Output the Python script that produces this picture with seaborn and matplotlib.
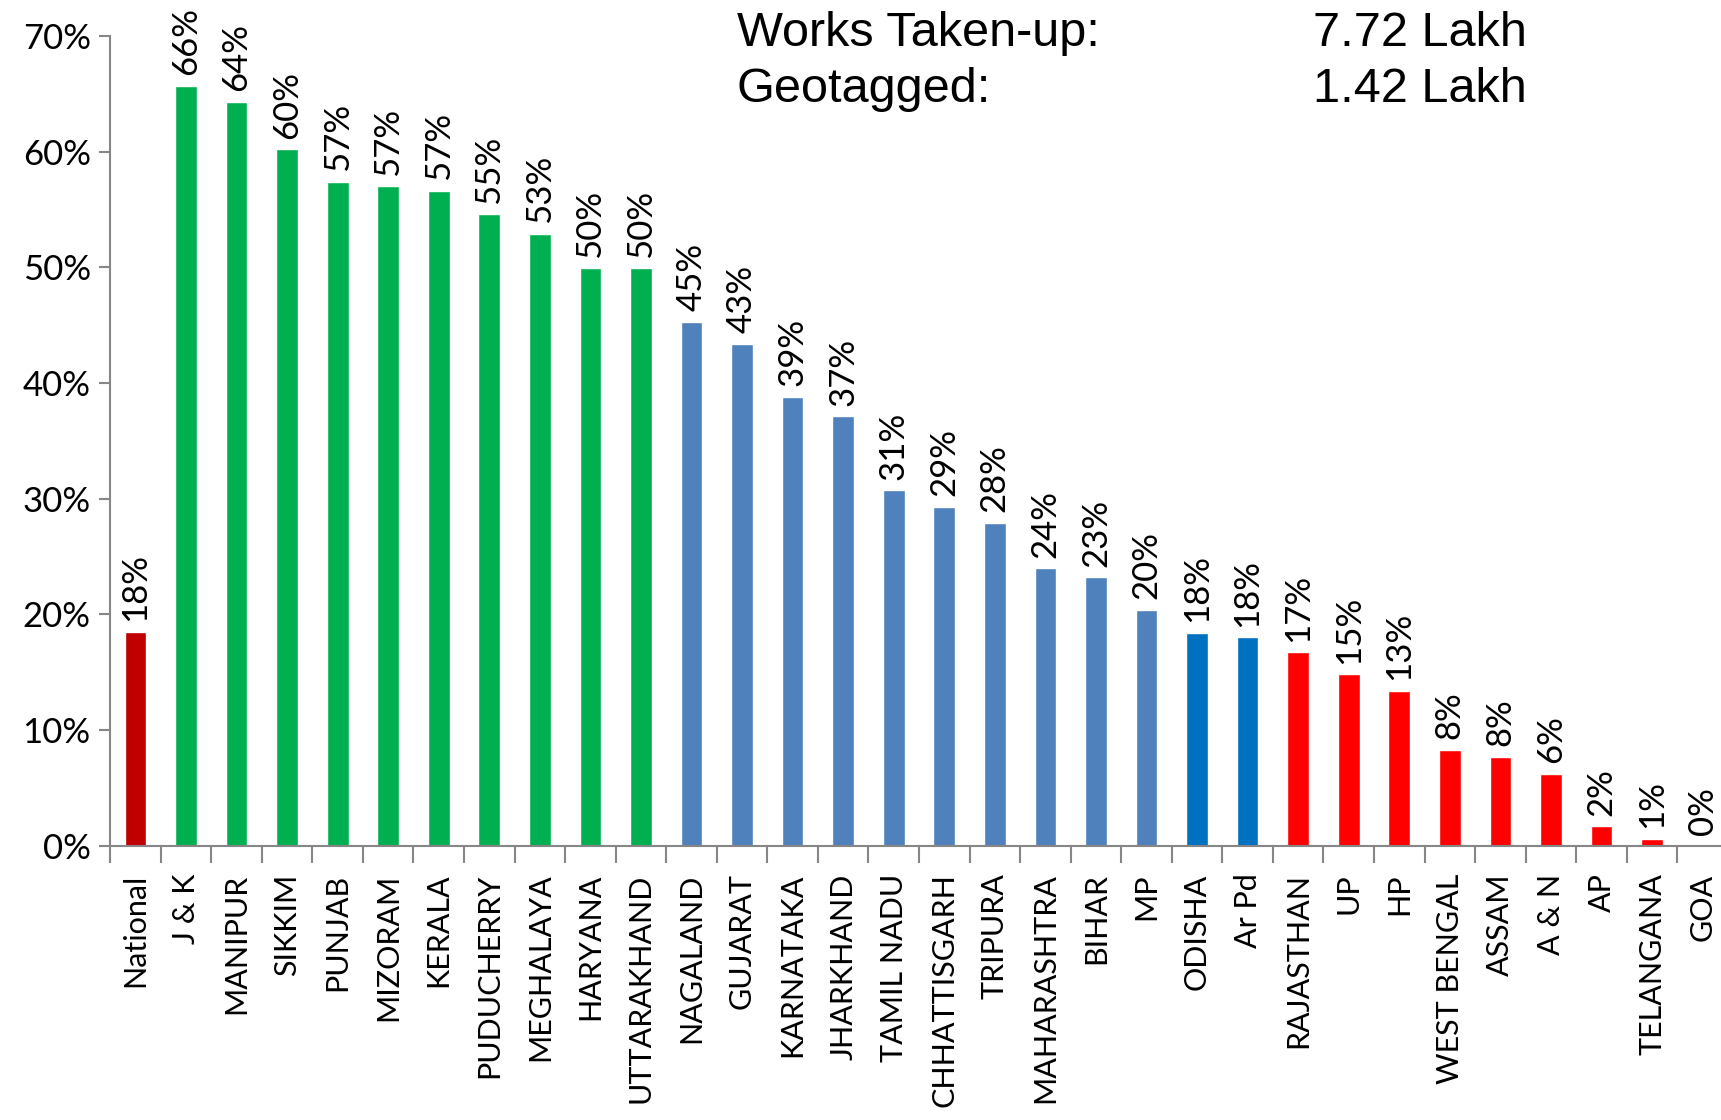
import matplotlib
matplotlib.use("Agg")
import matplotlib.pyplot as plt
import seaborn as sns
import pandas as pd
import numpy as np

states = ["National", "J & K", "MANIPUR", "SIKKIM", "PUNJAB", "MIZORAM", "KERALA",
          "PUDUCHERRY", "MEGHALAYA", "HARYANA", "UTTARAKHAND", "NAGALAND", "GUJARAT",
          "KARNATAKA", "JHARKHAND", "TAMIL NADU", "CHHATTISGARH", "TRIPURA",
          "MAHARASHTRA", "BIHAR", "MP", "ODISHA", "Ar Pd", "RAJASTHAN", "UP", "HP",
          "WEST BENGAL", "ASSAM", "A & N", "AP", "TELANGANA", "GOA"]
values = [18.5, 65.7, 64.3, 60.2, 57.4, 57.0, 56.6, 54.6, 52.9, 49.9, 49.9, 45.3, 43.4,
          38.8, 37.1, 30.7, 29.3, 27.9, 24.0, 23.2, 20.4, 18.4, 18.0, 16.7, 14.8, 13.4,
          8.3, 7.7, 6.2, 1.7, 0.6, 0.0]
labels = ["18%", "66%", "64%", "60%", "57%", "57%", "57%", "55%", "53%", "50%", "50%",
          "45%", "43%", "39%", "37%", "31%", "29%", "28%", "24%", "23%", "20%", "18%",
          "18%", "17%", "15%", "13%", "8%", "8%", "6%", "2%", "1%", "0%"]
groups = ["national"] + ["green"] * 10 + ["steel"] * 10 + ["blue"] * 2 + ["red"] * 9
group_colors = {"national": "#C00000", "green": "#00B050", "steel": "#4F81BD",
                "blue": "#0070C0", "red": "#FF0000"}
info_labels = ["Works Taken-up:", "Geotagged:"]
info_values = ["7.72 Lakh", "1.42 Lakh"]

df = pd.DataFrame({"state": states, "value": values, "group": groups})

sns.set_style("white")
plt.rcParams["font.family"] = ["Lato", "DejaVu Sans"]
plt.rcParams["text.color"] = "black"
plt.rcParams["xtick.color"] = "black"
plt.rcParams["ytick.color"] = "black"

fig = plt.figure(figsize=(17.21, 11.2), dpi=100)
ax = fig.add_axes([0.064, 0.245, 0.94, 0.723])

sns.barplot(data=df, x="state", y="value", hue="group", palette=group_colors,
            dodge=False, width=0.43, legend=False, ax=ax, saturation=1)

ax.set_ylim(0, 70)
ax.set_xlim(-0.5, len(states) - 0.5)
ax.set_yticks(range(0, 71, 10))
ax.set_yticklabels([f"{t}%" for t in range(0, 71, 10)], fontsize=25)
ax.set_xticks(range(len(states)))
ax.set_xticklabels(states, rotation=90, fontsize=22)
ax.set_xlabel("")
ax.set_ylabel("")

for s in ["top", "right"]:
    ax.spines[s].set_visible(False)
for s in ["left", "bottom"]:
    ax.spines[s].set_color("#868686")
    ax.spines[s].set_linewidth(1.5)

ax.tick_params(axis="y", length=8, width=1.5, color="#868686", labelcolor="black",
               pad=6, left=True)
ax.tick_params(axis="x", length=0, pad=20, labelcolor="black")
ax.set_xticks(np.arange(-0.5, len(states), 1), minor=True)
ax.tick_params(axis="x", which="minor", length=12, width=1.5, color="#868686",
               direction="out", bottom=True)

for i, (v, lab) in enumerate(zip(values, labels)):
    ax.text(i, v + 0.9, lab, rotation=90, ha="center", va="bottom", fontsize=25,
            color="black")

for lab, val, y in zip(info_labels, info_values, [0.99, 0.94]):
    fig.text(0.428, y, lab, fontsize=35, va="top", color="black",
             family=["Liberation Sans Narrow", "Liberation Sans", "DejaVu Sans"])
    fig.text(0.763, y, val, fontsize=35, va="top", color="black",
             family=["Liberation Sans Narrow", "Liberation Sans", "DejaVu Sans"])

fig.savefig("out.png", dpi=100)
